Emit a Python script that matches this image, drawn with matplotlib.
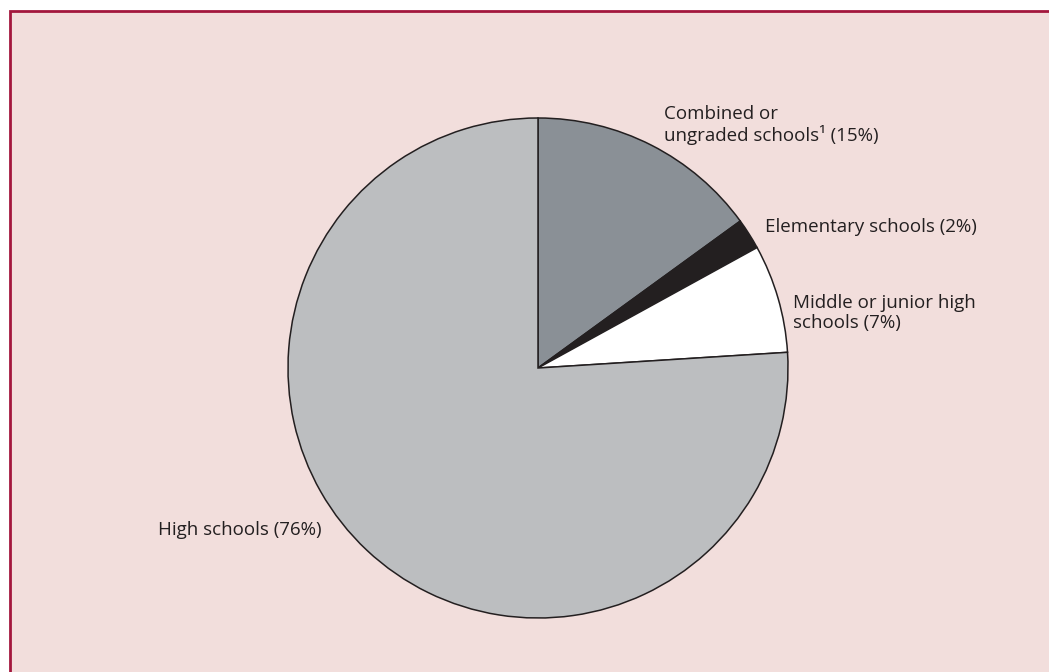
import matplotlib.pyplot as plt
from matplotlib.patches import Rectangle

labels = ['Combined or\nungraded schools\u00b9 (15%)', 'Elementary schools (2%)',
          'Middle or junior high\nschools (7%)', 'High schools (76%)']
shares = [15, 2, 7, 76]
colors = ['#8a9096', '#231f20', '#ffffff', '#bcbec0']

W, H = 1049, 672
fig = plt.figure(figsize=(W / 100, H / 100), dpi=100)
ax = fig.add_axes([0, 0, 1, 1])
ax.axis('off')

# pink panel, dark red frame on top and left only (cut off right/bottom)
ax.add_patch(Rectangle((10, -20), W + 20, H - 11 + 20, facecolor='#f2dedc',
                       edgecolor='#a3173d', linewidth=2))

ax.pie(shares, colors=colors, startangle=90, counterclock=False,
       center=(538, H - 368), radius=250,
       wedgeprops=dict(edgecolor='#231f20', linewidth=1.1))
ax.set_aspect('equal')
ax.set_xlim(0, W)
ax.set_ylim(0, H)

# label positions (pixel coords, left edge / vertical centre of text block)
lab_x = [664, 765, 793, 158]
lab_y = [125, 227, 313, 530]
for t, x, y in zip(labels, lab_x, lab_y):
    ax.text(x, H - y, t, fontsize=13.5, color='#231f20', va='center', ha='left',
            family='Open Sans', linespacing=1.1)

fig.savefig('out.png', dpi=100)
